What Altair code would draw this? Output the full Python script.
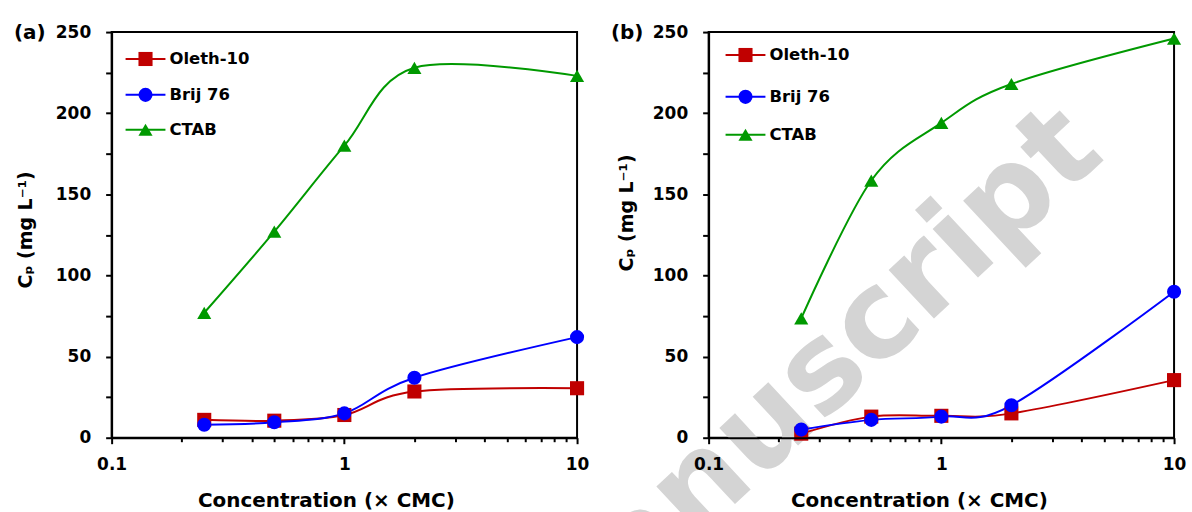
import altair as alt
import pandas as pd

# Concentration levels (multiples of the CMC)
conc = [0.25, 0.5, 1, 2, 10]

series_names = ["Oleth-10", "Brij 76", "CTAB"]
series_colors = ["#C00000", "#0000FF", "#009900"]
series_shapes = ["square", "circle", "triangle-up"]

# Panel (a): Cp in mg/L
a_oleth = [11, 10.5, 14, 28.5, 30.5]
a_brij = [8, 9.5, 15, 37, 62]
a_ctab = [77, 127, 180, 228, 223]

# Panel (b): Cp in mg/L
b_oleth = [2.5, 13, 13.5, 15, 35.5]
b_brij = [5, 11, 13, 20, 90]
b_ctab = [73.5, 158.5, 194, 218, 246]

x_ticks = [0.1, 0.2, 0.3, 0.4, 0.5, 0.6, 0.7, 0.8, 0.9,
           1, 2, 3, 4, 5, 6, 7, 8, 9, 10]
y_ticks = [0, 25, 50, 75, 100, 125, 150, 175, 200, 225, 250]

FONT = "DejaVu Sans"
W, H = 467, 407
MARK_SIZE = 200


def long_table(oleth, brij, ctab):
    rows = []
    for name, vals in zip(series_names, [oleth, brij, ctab]):
        for c, v in zip(conc, vals):
            rows.append({"series": name, "conc": c, "cp": v})
    return pd.DataFrame(rows)


def panel(tag, oleth, brij, ctab, leg, ytitle_pos, xtitle_x, watermark=False):
    df = long_table(oleth, brij, ctab)
    decade = "datum.value == 0.1 || datum.value == 1 || datum.value == 10"

    x_enc = alt.X(
        "conc:Q",
        scale=alt.Scale(type="log", domain=[0.1, 10], nice=False),
        axis=alt.Axis(
            values=x_ticks,
            labelExpr="datum.value == 0.1 ? '0.1' : datum.value == 1 ? '1' : datum.value == 10 ? '10' : ''",
            tickSize={"condition": {"test": decade, "value": 6}, "value": 4},
            labelFlush=False,
            labelOverlap=False,
            labelPadding=13,
            title="Concentration (× CMC)",
            titleX=xtitle_x,
            titleY=69,
            titleAlign="center",
            titleBaseline="alphabetic",
            zindex=1,
        ),
    )
    y_enc = alt.Y(
        "cp:Q",
        scale=alt.Scale(domain=[0, 250], nice=False),
        axis=alt.Axis(
            values=y_ticks,
            labelExpr="datum.value % 50 == 0 ? datum.label : ''",
            labelOverlap=False,
            tickSize=6,
            labelPadding=15,
            title="Cₚ (mg L⁻¹)",
            titleAngle=270,
            titleX=ytitle_pos[0],
            titleY=ytitle_pos[1],
            titleAlign="center",
            titleBaseline="middle",
            titleFontSize=19,
            zindex=1,
        ),
    )
    color = alt.Color("series:N", scale=alt.Scale(domain=series_names, range=series_colors), legend=None)
    shape = alt.Shape("series:N", scale=alt.Scale(domain=series_names, range=series_shapes), legend=None)

    base = alt.Chart(df)
    lines = base.mark_line(interpolate="cardinal", strokeWidth=2).encode(x=x_enc, y=y_enc, color=color, detail="series:N")
    points = base.mark_point(filled=True, size=MARK_SIZE, opacity=1).encode(x=x_enc, y=y_enc, color=color, shape=shape)

    layers = []
    if watermark:
        layers.append(
            alt.Chart(pd.DataFrame({"t": ["Manuscript"]}))
            .mark_text(font=FONT, fontWeight="bold", fontSize=122, angle=317,
                       align="center", baseline="middle", color="#d4d4d4")
            .encode(x=alt.value(93), y=alt.value(361), text="t:N")
        )
    layers += [lines, points]

    # Legend drawn inside the plot, top-left corner
    lx0, lx1, lmark, ltext, rows_y = leg
    for name, col, shp, yy in zip(series_names, series_colors, series_shapes, rows_y):
        one = alt.Chart(pd.DataFrame({"series": [name]}))
        layers.append(one.mark_rule(strokeWidth=2, color=col).encode(
            x=alt.value(lx0), x2=alt.value(lx1), y=alt.value(yy)))
        layers.append(one.mark_point(filled=True, size=MARK_SIZE, opacity=1, color=col, shape=shp).encode(
            x=alt.value(lmark), y=alt.value(yy)))
        layers.append(one.mark_text(font=FONT, fontWeight="bold", fontSize=16.5, align="left",
                                    baseline="middle", color="black").encode(
            x=alt.value(ltext), y=alt.value(yy), text="series:N"))

    # Panel tag
    layers.append(
        alt.Chart(pd.DataFrame({"t": [tag]}))
        .mark_text(font=FONT, fontWeight="bold", fontSize=20, align="left", baseline="middle", color="black")
        .encode(x=alt.value(-98), y=alt.value(1), text="t:N")
    )
    return alt.layer(*layers).properties(width=W, height=H)


pa = panel("(a)", a_oleth, a_brij, a_ctab,
           leg=(14, 54, 34, 58, [27, 63, 98]), ytitle_pos=(-86, 198), xtitle_x=215)
pb = panel("(b)", b_oleth, b_brij, b_ctab,
           leg=(17, 57, 37, 61, [23, 65, 103]), ytitle_pos=(-82, 181), xtitle_x=211,
           watermark=True)

chart = (
    alt.hconcat(pa, pb, spacing=132, bounds="flush")
    .properties(padding={"left": 13, "top": 21, "right": 5, "bottom": 5})
    .configure_view(stroke="black", strokeWidth=2)
    .configure_axis(
        grid=False,
        domainColor="black",
        domainWidth=2,
        tickColor="black",
        tickWidth=2,
        labelFont=FONT,
        labelFontWeight="bold",
        labelFontSize=17,
        labelColor="black",
        titleFont=FONT,
        titleFontWeight="bold",
        titleFontSize=20,
        titleColor="black",
    )
)

chart.save("out.html", embed_options={"renderer": "svg", "actions": False})
